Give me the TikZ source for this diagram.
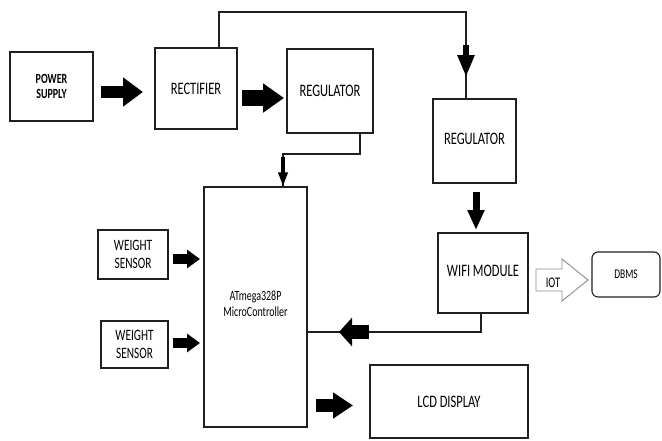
\documentclass[tikz,border=0pt]{standalone}
\usepackage{fontspec}
\usepackage{graphicx}
\setmainfont{Carlito}
\usetikzlibrary{arrows.meta,calc}
\newcommand{\vs}[1]{\scalebox{1}[1.4]{#1}}
\begin{document}
\begin{tikzpicture}[x=1pt,y=-1pt,
  box/.style={draw=black!88, line width=1.1pt, inner sep=0pt, align=center, font=\fontsize{12.5}{15}\selectfont},
  conn/.style={draw=black!88, line width=1.1pt},
  fat/.style={draw=black, line width=#1},
]
\useasboundingbox (0,0) rectangle (662,440);
\fill[white] (0,0) rectangle (662,440);

% boxes
\node[box, minimum width=83pt, minimum height=69pt, font=\fontsize{10}{15.5}\selectfont\bfseries] (ps) at (51.5,86.5) {\vs{POWER}\\ \vs{SUPPLY}};
\node[box, minimum width=82pt, minimum height=81pt] (rect) at (196,88.5) {\raisebox{-7pt}{\vs{RECTIFIER}}};
\node[box, minimum width=86pt, minimum height=84pt] (reg1) at (330,91) {\vs{REGULATOR}};
\node[box, minimum width=83pt, minimum height=84pt] (reg2) at (474.5,141) {\raisebox{4pt}{\vs{REGULATOR}}};
\node[box, minimum width=90pt, minimum height=80pt] (wifi) at (483,273) {\raisebox{4pt}{\vs{WIFI MODULE}}};
\node[box, rounded corners=6pt, minimum width=68pt, minimum height=45pt, font=\fontsize{9.5}{12}\selectfont] (dbms) at (626,274.5) {\vs{DBMS}};
\node[box, minimum width=103pt, minimum height=240pt, font=\fontsize{10}{15}\selectfont] (mcu) at (255.5,307) {\raisebox{7pt}{\shortstack{\vs{ATmega328P}\\[1pt]\vs{MicroController}}}};
\node[box, minimum width=70pt, minimum height=49pt, font=\fontsize{11.3}{18}\selectfont] (ws1) at (133,254.5) {\vs{WEIGHT}\\\vs{SENSOR}};
\node[box, minimum width=67pt, minimum height=47pt, font=\fontsize{11.3}{18}\selectfont] (ws2) at (134.5,344.5) {\vs{WEIGHT}\\\vs{SENSOR}};
\node[box, minimum width=158pt, minimum height=73pt] (lcd) at (449,401.5) {\raisebox{-3pt}{\vs{LCD DISPLAY}}};

% thin connectors
\coordinate (topL) at ($(rect.north)+(23,0)$);
\coordinate (topR) at ($(reg2.north)+(-8.5,0)$);
\draw[conn] (topL) -- (topL |- 0,12) -- (topR |- 0,12) -- (topR);
\coordinate (r1b) at ($(reg1.south)+(30,0)$);
\coordinate (mcut) at ($(mcu.north)+(27.5,0)$);
\draw[conn] (r1b) -- (r1b |- 0,154) -- (mcut |- 0,154) -- (mcut);
\coordinate (wfb) at ($(wifi.south)+(-2,0)$);
\draw[conn] (wfb) -- (wfb |- 0,332) -- (mcu.east |- 0,332);

% fat arrows
\draw[fat=12pt, -{Triangle[length=20pt,width=28pt]}] (101,92) -- (143,92);
\draw[fat=16pt, -{Triangle[length=21pt,width=28pt]}] (242,98) -- (284,98);
\draw[fat=6pt, -{Triangle[length=22pt,width=16pt]}] (topR |- 0,45) -- (topR |- 0,77);
\draw[fat=7pt, -{Triangle[length=20pt,width=16pt]}] (476,192) -- (476,230);
\draw[fat=3.5pt, -{Triangle[length=14pt,width=9pt]}] (mcut |- 0,157) -- (mcut);
\draw[fat=14pt, -{Triangle[length=13pt,width=28pt]}] (369,332) -- (339,332);
\draw[fat=10pt, -{Triangle[length=13pt,width=18pt]}] (173,259) -- (200,259);
\draw[fat=10pt, -{Triangle[length=13pt,width=18pt]}] (173,343) -- (200,343);
\draw[fat=13pt, -{Triangle[length=20pt,width=25pt]}] (316,405.5) -- (353,405.5);

% hollow IOT arrow
\draw[draw=black!45, line width=0.9pt, line join=miter]
  (536,269) -- (562,269) -- (562,259) -- (588,280) -- (562,301) -- (562,291) -- (536,291) -- cycle;
\node[font=\fontsize{10.5}{12}\selectfont, inner sep=0pt] (iot) at (553,283) {\vs{IOT}};
\end{tikzpicture}
\end{document}
